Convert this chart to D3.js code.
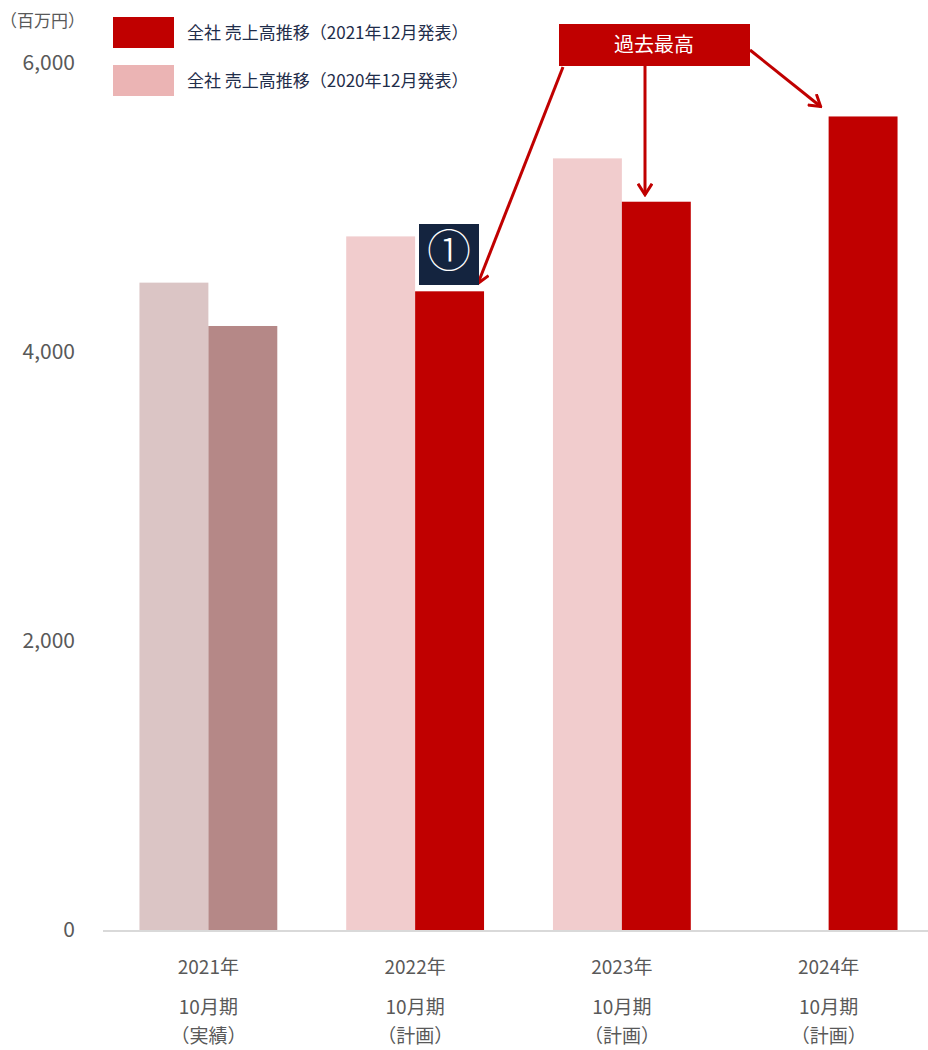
<!DOCTYPE html>
<html>
<head>
<meta charset="utf-8">
<script src="https://cdn.jsdelivr.net/npm/d3@7"></script>
<style>
  body { margin: 0; background: #fff; }
  svg { font-family: "Noto Sans CJK JP", "Noto Sans", sans-serif; }
</style>
</head>
<body>
<div id="chart"></div>
<script>
// data
const years = ["2021年", "2022年", "2023年", "2024年"];
const periodLabels = ["10月期", "10月期", "10月期", "10月期"];
const kindLabels = ["（実績）", "（計画）", "（計画）", "（計画）"];
const seriesNames = ["全社 売上高推移（2021年12月発表）", "全社 売上高推移（2020年12月発表）"];
const plan2020 = [4480, 4800, 5340, null];
const plan2021 = [4180, 4420, 5040, 5630];
const yTicks = [0, 2000, 4000, 6000];

const width = 928, height = 1050;

const svg = d3.select("#chart").append("svg")
  .attr("width", width)
  .attr("height", height);

const x = d3.scaleBand()
  .domain(years)
  .range([105, 932])
  .padding(0);

const xInner = d3.scaleBand()
  .domain(["old", "new"])
  .range([0, x.bandwidth()])
  .paddingInner(0)
  .paddingOuter(0.5);

const y = d3.scaleLinear()
  .domain([0, 6000])
  .range([930, 63]);

// y labels
svg.append("g")
  .selectAll("text")
  .data(yTicks)
  .enter()
  .append("text")
  .attr("x", 75)
  .attr("y", d => y(d))
  .attr("dy", "0.35em")
  .attr("text-anchor", "end")
  .attr("fill", "#595959")
  .style("font-size", "21px")
  .text(d => d3.format(",")(d));

svg.append("text")
  .attr("x", 0)
  .attr("y", 27)
  .attr("fill", "#595959")
  .style("font-size", "17px")
  .text("（百万円）");

// bars
const oldColor = (d, i) => i === 0 ? "#dbc5c5" : "#f1cccd";
const newColor = (d, i) => i === 0 ? "#b58887" : "#c00000";

svg.append("g")
  .selectAll("rect")
  .data(years.map((c, i) => ({ c, v: plan2020[i] })))
  .enter()
  .filter(d => d.v != null)
  .append("rect")
  .attr("x", d => x(d.c) + xInner("old"))
  .attr("y", d => y(d.v))
  .attr("width", xInner.bandwidth())
  .attr("height", d => y(0) - y(d.v))
  .attr("fill", d => oldColor(d, years.indexOf(d.c)));

svg.append("g")
  .selectAll("rect")
  .data(years.map((c, i) => ({ c, v: plan2021[i] })))
  .enter()
  .append("rect")
  .attr("x", d => x(d.c) + xInner("new"))
  .attr("y", d => y(d.v))
  .attr("width", xInner.bandwidth())
  .attr("height", d => y(0) - y(d.v))
  .attr("fill", (d, i) => newColor(d, i));

// axis line
svg.append("line")
  .attr("x1", 103).attr("x2", 928)
  .attr("y1", y(0) + 1).attr("y2", y(0) + 1)
  .attr("stroke", "#d9d9d9")
  .attr("stroke-width", 2);

// category labels
const cat = svg.append("g")
  .selectAll("g")
  .data(years)
  .enter()
  .append("g")
  .attr("transform", d => "translate(" + (x(d) + x.bandwidth() / 2) + ",0)");

cat.append("text").attr("y", 974).text(d => d);
cat.append("text").attr("y", 1014).text((d, i) => periodLabels[i]);
cat.append("text").attr("y", 1043).text((d, i) => kindLabels[i]);
cat.selectAll("text")
  .attr("text-anchor", "middle")
  .attr("fill", "#595959")
  .style("font-size", "19px");

// legend
const legend = svg.append("g");
const legendColors = ["#c00000", "#ebb4b4"];
seriesNames.forEach((name, i) => {
  legend.append("rect")
    .attr("x", 113).attr("y", 17 + i * 48)
    .attr("width", 61).attr("height", 31)
    .attr("fill", legendColors[i]);
  legend.append("text")
    .attr("x", 187).attr("y", 33 + i * 48)
    .attr("dy", "0.35em")
    .attr("fill", "#1f2d4a")
    .style("font-size", "17px")
    .text(name);
});

// annotation "過去最高"
const defs = svg.append("defs");
defs.append("marker")
  .attr("id", "head")
  .attr("viewBox", "-12 -8 14 16")
  .attr("refX", 0).attr("refY", 0)
  .attr("markerWidth", 14).attr("markerHeight", 16)
  .attr("markerUnits", "userSpaceOnUse")
  .attr("orient", "auto")
  .append("path")
  .attr("d", "M-11,-7 L0,0 L-11,7")
  .attr("fill", "none")
  .attr("stroke", "#c00000")
  .attr("stroke-width", 3);

const arrows = [
  { x1: 563, y1: 67, x2: x("2022年") + xInner("new") + xInner.bandwidth() - 6, y2: y(plan2021[1]) - 8 },
  { x1: 645, y1: 66, x2: 645, y2: y(plan2021[2]) - 7 },
  { x1: 750, y1: 50, x2: x("2024年") + xInner("new") - 8, y2: y(plan2021[3]) - 10 }
];
svg.append("g")
  .selectAll("line")
  .data(arrows)
  .enter()
  .append("line")
  .attr("x1", d => d.x1).attr("y1", d => d.y1)
  .attr("x2", d => d.x2).attr("y2", d => d.y2)
  .attr("stroke", "#c00000")
  .attr("stroke-width", 3)
  .attr("marker-end", "url(#head)");

svg.append("rect")
  .attr("x", 559).attr("y", 24)
  .attr("width", 191).attr("height", 42)
  .attr("fill", "#c00000");
svg.append("text")
  .attr("x", 654).attr("y", 45)
  .attr("dy", "0.35em")
  .attr("text-anchor", "middle")
  .attr("fill", "#fff")
  .style("font-size", "20px")
  .text("過去最高");

// marker ①
svg.append("rect")
  .attr("x", 419).attr("y", 224)
  .attr("width", 60).attr("height", 61)
  .attr("fill", "#14243f");
svg.append("text")
  .attr("x", 449).attr("y", 252)
  .attr("dy", "0.35em")
  .attr("text-anchor", "middle")
  .attr("fill", "#fff")
  .style("font-size", "44px")
  .style("font-weight", "300")
  .text("①");
</script>
</body>
</html>
